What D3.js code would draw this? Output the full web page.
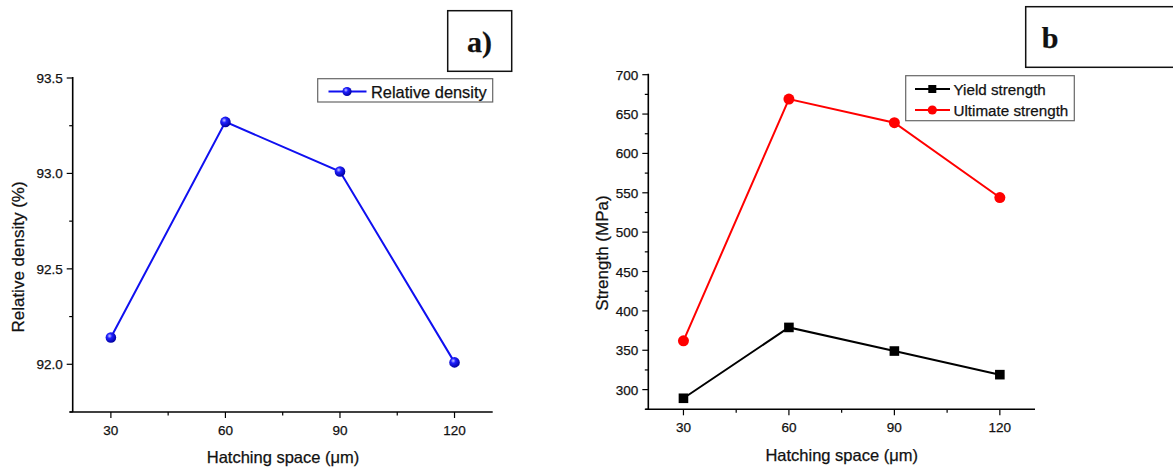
<!DOCTYPE html>
<html>
<head>
<meta charset="utf-8">
<script src="https://cdn.jsdelivr.net/npm/d3@7"></script>
<style>
  body { margin: 0; background: #fff; }
  text { font-family: "Liberation Sans", Arial, sans-serif; fill: #111; stroke: #111; stroke-width: 0.25px; }
</style>
</head>
<body>
<div id="vis"></div>
<script>
// data
var hatching = [30, 60, 90, 120];
var xTicks = [30, 60, 90, 120];
var relDensity = [92.14, 93.27, 93.01, 92.01];
var densityTicks = [92.0, 92.5, 93.0, 93.5];
var yieldStrength = [289, 379, 349, 319];
var ultimateStrength = [362, 669, 639, 544];
var strengthTicks = [300, 350, 400, 450, 500, 550, 600, 650, 700];

var width = 1173;
var height = 468;

var svg = d3.select('#vis')
  .append('svg')
  .attr('width', width)
  .attr('height', height);

// sphere look for the blue markers
var defs = svg.append('defs');
var grad = defs.append('radialGradient')
  .attr('id', 'blueBall')
  .attr('cx', '38%').attr('cy', '35%').attr('r', '65%');
grad.append('stop').attr('offset', '0%').attr('stop-color', '#c8c8ff');
grad.append('stop').attr('offset', '35%').attr('stop-color', '#2020ff');
grad.append('stop').attr('offset', '100%').attr('stop-color', '#0000a0');

function drawAxes(g, x, y, yTicks, yMinorStep, yFmt, plot) {
  var yDom = y.domain();
  var minorY = d3.range(yTicks[0] - yMinorStep, yDom[1] + 1e-9, yMinorStep)
    .filter(function (v) { return v >= yDom[0] && yTicks.indexOf(+v.toFixed(4)) < 0; });
  var minorX = [45, 75, 105];

  // bottom axis
  g.append('line')
    .attr('x1', plot.left - 3).attr('x2', plot.right)
    .attr('y1', plot.bottom).attr('y2', plot.bottom)
    .attr('stroke', '#000').attr('stroke-width', 1.6);
  g.selectAll('.xt').data(xTicks).enter().append('line')
    .attr('x1', function (d) { return x(d); }).attr('x2', function (d) { return x(d); })
    .attr('y1', plot.bottom).attr('y2', plot.bottom + 6)
    .attr('stroke', '#000').attr('stroke-width', 1.2);
  g.selectAll('.xm').data(minorX).enter().append('line')
    .attr('x1', function (d) { return x(d); }).attr('x2', function (d) { return x(d); })
    .attr('y1', plot.bottom).attr('y2', plot.bottom + 3.5)
    .attr('stroke', '#000').attr('stroke-width', 1.2);
  g.selectAll('.xl').data(xTicks).enter().append('text')
    .attr('x', function (d) { return x(d); })
    .attr('y', plot.bottom + 23)
    .attr('text-anchor', 'middle')
    .style('font-size', '13.5px')
    .text(function (d) { return d; });

  // left axis
  g.append('line')
    .attr('x1', plot.left).attr('x2', plot.left)
    .attr('y1', plot.top - 1).attr('y2', plot.bottom)
    .attr('stroke', '#000').attr('stroke-width', 1.6);
  g.selectAll('.yt').data(yTicks).enter().append('line')
    .attr('x1', plot.left - 6).attr('x2', plot.left)
    .attr('y1', function (d) { return y(d); }).attr('y2', function (d) { return y(d); })
    .attr('stroke', '#000').attr('stroke-width', 1.2);
  g.selectAll('.ym').data(minorY).enter().append('line')
    .attr('x1', plot.left - 3.5).attr('x2', plot.left)
    .attr('y1', function (d) { return y(d); }).attr('y2', function (d) { return y(d); })
    .attr('stroke', '#000').attr('stroke-width', 1.2);
  g.selectAll('.yl').data(yTicks).enter().append('text')
    .attr('x', plot.left - 10)
    .attr('y', function (d) { return y(d) + 5; })
    .attr('text-anchor', 'end')
    .style('font-size', '13.5px')
    .text(yFmt);
}

function labelBox(g, x, y, w, h, txt, tx, ty) {
  g.append('rect')
    .attr('x', x).attr('y', y).attr('width', w).attr('height', h)
    .attr('fill', '#fff').attr('stroke', '#111').attr('stroke-width', 1.5);
  g.append('text')
    .attr('x', tx).attr('y', ty)
    .attr('text-anchor', 'middle')
    .style('font-family', '"Liberation Serif", "Times New Roman", serif')
    .style('font-weight', 'bold')
    .style('font-size', '30px')
    .text(txt);
}

// ---------- panel a ----------
var pa = { left: 72.7, right: 492.7, top: 78, bottom: 412 };
var xa = d3.scaleLinear().domain([20, 130]).range([pa.left, pa.right]);
var ya = d3.scaleLinear().domain([91.75, 93.5]).range([pa.bottom, pa.top]);
var ga = svg.append('g');

drawAxes(ga, xa, ya, densityTicks, 0.25, function (d) { return d.toFixed(1); }, pa);

var densPts = hatching.map(function (h, i) { return [h, relDensity[i]]; });
ga.append('path')
  .datum(densPts)
  .attr('fill', 'none').attr('stroke', '#1010f0').attr('stroke-width', 2)
  .attr('d', d3.line().x(function (d) { return xa(d[0]); }).y(function (d) { return ya(d[1]); }));
ga.selectAll('.ball').data(densPts).enter().append('circle')
  .attr('cx', function (d) { return xa(d[0]); })
  .attr('cy', function (d) { return ya(d[1]); })
  .attr('r', 5.3)
  .attr('fill', 'url(#blueBall)');

ga.append('text')
  .attr('transform', 'translate(24,' + 257 + ') rotate(-90)')
  .attr('text-anchor', 'middle')
  .style('font-size', '17px')
  .text('Relative density (%)');
ga.append('text')
  .attr('x', 283).attr('y', 463)
  .attr('text-anchor', 'middle')
  .style('font-size', '16.5px')
  .text('Hatching space (μm)');

// legend a
ga.append('rect')
  .attr('x', 317.7).attr('y', 78.7).attr('width', 175).attr('height', 23.3)
  .attr('fill', '#fff').attr('stroke', '#666').attr('stroke-width', 1.2);
ga.append('line')
  .attr('x1', 328.5).attr('x2', 366.5).attr('y1', 91.5).attr('y2', 91.5)
  .attr('stroke', '#1010f0').attr('stroke-width', 2);
ga.append('circle')
  .attr('cx', 347).attr('cy', 91.5).attr('r', 4.6).attr('fill', 'url(#blueBall)');
ga.append('text')
  .attr('x', 371).attr('y', 97.5)
  .style('font-size', '16.4px')
  .text('Relative density');

labelBox(ga, 447.7, 10.7, 64, 60.6, 'a)', 479.5, 52);

// ---------- panel b ----------
var pb = { left: 648.3, right: 1035, top: 74.7, bottom: 409.3 };
var xb = d3.scaleLinear().domain([20, 130]).range([pb.left, pb.right]);
var yb = d3.scaleLinear().domain([275, 700]).range([pb.bottom, pb.top]);
var gb = svg.append('g');

drawAxes(gb, xb, yb, strengthTicks, 25, function (d) { return d; }, pb);

var series = [
  { name: 'Yield strength', values: yieldStrength, color: '#000', shape: 'square' },
  { name: 'Ultimate strength', values: ultimateStrength, color: '#ff0000', shape: 'circle' }
];

series.forEach(function (s) {
  var pts = hatching.map(function (h, i) { return [h, s.values[i]]; });
  gb.append('path')
    .datum(pts)
    .attr('fill', 'none').attr('stroke', s.color).attr('stroke-width', 2)
    .attr('d', d3.line().x(function (d) { return xb(d[0]); }).y(function (d) { return yb(d[1]); }));
  if (s.shape === 'square') {
    gb.selectAll('.sq').data(pts).enter().append('rect')
      .attr('x', function (d) { return xb(d[0]) - 4.8; })
      .attr('y', function (d) { return yb(d[1]) - 4.8; })
      .attr('width', 9.6).attr('height', 9.6)
      .attr('fill', s.color);
  } else {
    gb.selectAll('.ci').data(pts).enter().append('circle')
      .attr('cx', function (d) { return xb(d[0]); })
      .attr('cy', function (d) { return yb(d[1]); })
      .attr('r', 5.5)
      .attr('fill', s.color);
  }
});

gb.append('text')
  .attr('transform', 'translate(608,' + 253 + ') rotate(-90)')
  .attr('text-anchor', 'middle')
  .style('font-size', '17px')
  .text('Strength (MPa)');
gb.append('text')
  .attr('x', 841.7).attr('y', 461)
  .attr('text-anchor', 'middle')
  .style('font-size', '16.5px')
  .text('Hatching space (μm)');

// legend b
gb.append('rect')
  .attr('x', 905.7).attr('y', 75.7).attr('width', 168.6).attr('height', 45)
  .attr('fill', '#fff').attr('stroke', '#666').attr('stroke-width', 1.2);
series.forEach(function (s, i) {
  var ly = 89 + i * 21;
  gb.append('line')
    .attr('x1', 915).attr('x2', 950).attr('y1', ly).attr('y2', ly)
    .attr('stroke', s.color).attr('stroke-width', 2);
  if (s.shape === 'square') {
    gb.append('rect').attr('x', 928.3).attr('y', ly - 4).attr('width', 8).attr('height', 8).attr('fill', s.color);
  } else {
    gb.append('circle').attr('cx', 932.3).attr('cy', ly).attr('r', 4.6).attr('fill', s.color);
  }
  gb.append('text')
    .attr('x', 953.5).attr('y', ly + 5.5)
    .style('font-size', '15.2px')
    .text(s.name);
});

labelBox(gb, 1025.7, 6.7, 160, 60.6, 'b', 1050, 48);
</script>
</body>
</html>
